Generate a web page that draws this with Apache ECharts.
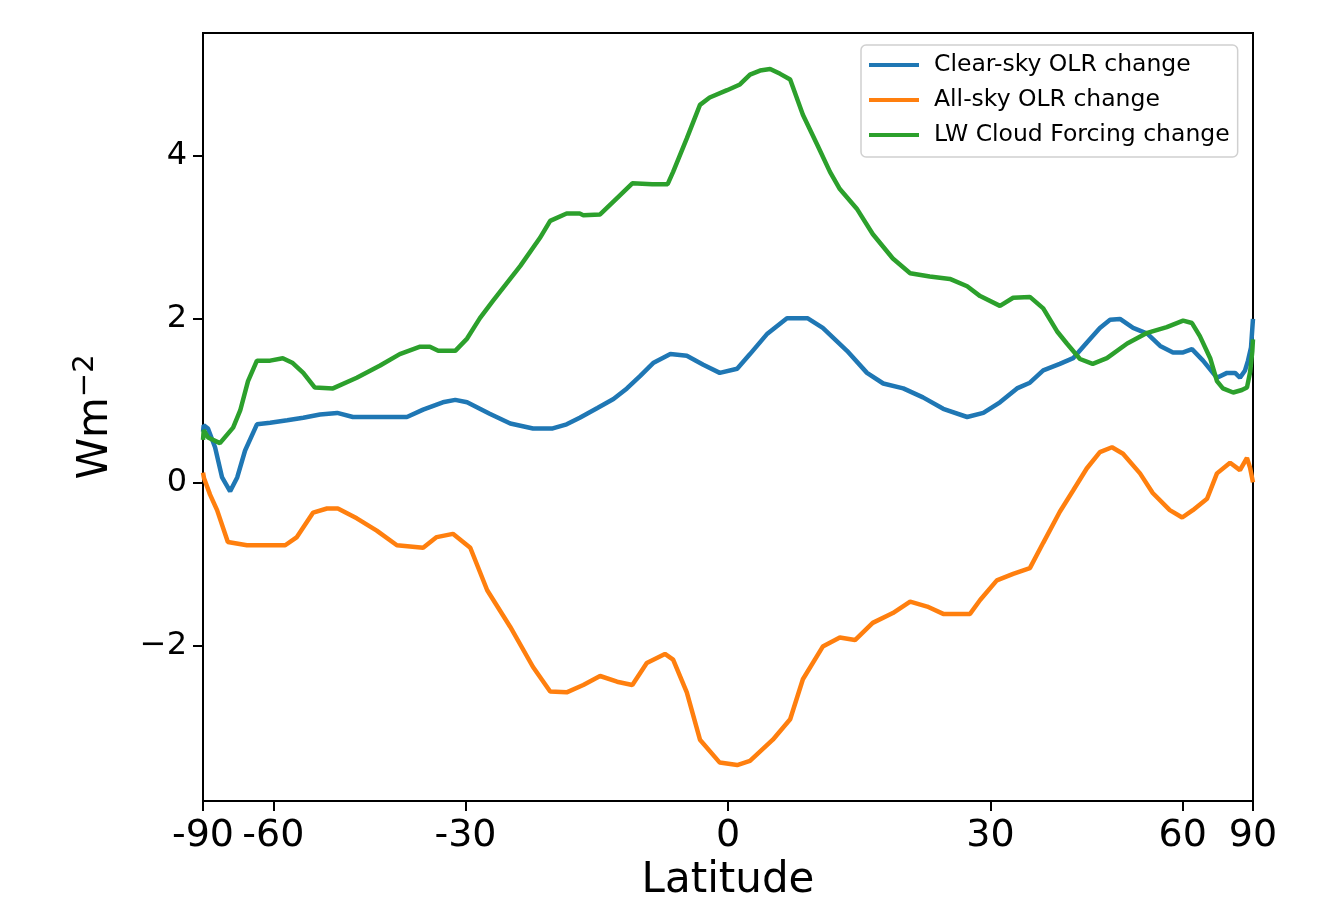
<!DOCTYPE html>
<html>
<head>
<meta charset="utf-8">
<script src="https://cdn.jsdelivr.net/npm/echarts@6/dist/echarts.min.js"></script>
<style>
html,body{margin:0;padding:0;background:#fff;}
#chart{width:1322px;height:907px;}
</style>
</head>
<body>
<div id="chart"></div>
<script>
// Tick labels
const latTicks = [-90, -60, -30, 0, 30, 60, 90];
const yTicks = [-2, 0, 2, 4];

// Clear-sky OLR change (blue)
const clearLat = [-89.5, -87, -82.1, -77.7, -74.5, -71.5, -69.2, -66.9, -63.8, -60.7, -57.1, -54.0, -51.0, -48.1, -45.6, -42.0, -37.7, -35.5, -32.9, -31.3, -29.8, -27.0, -24.5, -21.8, -19.5, -17.9, -16.4, -14.4, -12.6, -11.1, -9.65, -8.2, -6.3, -4.5, -2.7, -0.9, 1.0, 2.4, 4.3, 6.45, 8.7, 10.4, 13.1, 15.35, 17.2, 19.5, 21.8, 24.2, 27.1, 29.1, 31.2, 33.4, 35.1, 36.9, 39.2, 41.1, 43.1, 45.1, 46.7, 48.3, 50.5, 53.0, 55.4, 57.95, 60.1, 62.1, 64.8, 68.65, 71.9, 75.0, 77.2, 80.0, 82.1, 85.0, 89.5];
const clearVal = [0.62, 0.70, 0.66, 0.43, 0.06, -0.11, 0.06, 0.39, 0.71, 0.73, 0.76, 0.79, 0.83, 0.85, 0.80, 0.80, 0.80, 0.89, 0.98, 1.01, 0.98, 0.84, 0.72, 0.66, 0.66, 0.71, 0.79, 0.91, 1.02, 1.15, 1.30, 1.46, 1.57, 1.55, 1.44, 1.34, 1.39, 1.57, 1.82, 2.01, 2.01, 1.89, 1.61, 1.34, 1.21, 1.15, 1.04, 0.90, 0.80, 0.85, 0.98, 1.15, 1.22, 1.37, 1.45, 1.52, 1.71, 1.89, 1.99, 2.00, 1.89, 1.82, 1.67, 1.59, 1.59, 1.63, 1.49, 1.28, 1.34, 1.34, 1.28, 1.37, 1.49, 1.65, 2.00];

// All-sky OLR change (orange)
const allLat = [-89.5, -86.4, -80.6, -76.7, -72.3, -66.4, -61.4, -57.5, -55.2, -52.2, -49.8, -48.0, -45.0, -42.0, -39.1, -35.5, -33.7, -31.6, -29.4, -27.3, -24.5, -21.8, -19.8, -17.9, -16.0, -14.1, -12.2, -10.5, -8.9, -6.9, -6.0, -4.5, -3.06, -0.9, 1.0, 2.4, 4.9, 6.8, 8.2, 10.4, 12.3, 14.0, 16.0, 18.3, 20.3, 22.3, 24.2, 27.45, 28.7, 30.8, 32.9, 35.1, 36.9, 39.2, 41.1, 43.1, 45.1, 47.0, 48.8, 51.7, 54.0, 57.3, 59.9, 62.3, 65.85, 68.65, 73.0, 77.2, 81.3, 83.9, 89.5];
const allVal = [0.12, 0.05, -0.15, -0.34, -0.73, -0.77, -0.77, -0.77, -0.67, -0.37, -0.32, -0.32, -0.44, -0.59, -0.77, -0.80, -0.67, -0.63, -0.80, -1.32, -1.77, -2.26, -2.56, -2.57, -2.48, -2.37, -2.44, -2.48, -2.21, -2.10, -2.17, -2.57, -3.15, -3.43, -3.46, -3.41, -3.15, -2.90, -2.41, -2.01, -1.90, -1.93, -1.72, -1.60, -1.46, -1.52, -1.61, -1.61, -1.44, -1.20, -1.12, -1.05, -0.74, -0.36, -0.10, 0.17, 0.37, 0.43, 0.35, 0.11, -0.13, -0.34, -0.43, -0.34, -0.20, 0.11, 0.24, 0.15, 0.30, 0.18, 0.00];

// LW Cloud Forcing change (green)
const lwLat = [-89.5, -87, -82.1, -75.4, -70.5, -68.3, -66.1, -63.8, -60.7, -58.0, -56.0, -54.0, -51.9, -48.8, -45.0, -41.5, -38.7, -35.9, -34.6, -33.5, -31.3, -29.8, -28.2, -26.6, -23.3, -21.0, -19.8, -17.9, -16.4, -16.0, -14.1, -12.2, -10.5, -8.3, -6.6, -6.0, -4.5, -3.06, -2.0, -0.1, 1.3, 2.4, 3.5, 4.6, 5.7, 6.8, 8.2, 9.8, 11.2, 12.3, 14.2, 16.0, 18.3, 20.3, 22.6, 25.0, 27.1, 28.7, 31.2, 32.9, 35.1, 36.9, 38.8, 40.2, 42.1, 44.0, 46.2, 49.5, 53.0, 56.7, 60.1, 62.1, 64.0, 66.7, 68.65, 70.5, 74.2, 78.2, 81.3, 84.0, 87.0, 89.5];
const lwVal = [0.52, 0.64, 0.55, 0.48, 0.67, 0.88, 1.24, 1.49, 1.49, 1.52, 1.46, 1.34, 1.16, 1.15, 1.28, 1.43, 1.57, 1.66, 1.66, 1.61, 1.61, 1.76, 2.01, 2.22, 2.65, 2.99, 3.20, 3.29, 3.29, 3.27, 3.28, 3.48, 3.66, 3.65, 3.65, 3.80, 4.21, 4.62, 4.71, 4.80, 4.87, 4.99, 5.04, 5.06, 5.00, 4.93, 4.50, 4.13, 3.80, 3.59, 3.35, 3.04, 2.74, 2.56, 2.52, 2.49, 2.40, 2.28, 2.16, 2.26, 2.27, 2.13, 1.85, 1.70, 1.51, 1.45, 1.52, 1.70, 1.83, 1.90, 1.98, 1.95, 1.79, 1.52, 1.24, 1.15, 1.10, 1.13, 1.16, 1.35, 1.60, 1.75];

const FONT = 'DejaVu Sans';
const toSin = lat => Math.sin(lat * Math.PI / 180);
const fromSin = v => Math.round(Math.asin(Math.max(-1, Math.min(1, v))) * 180 / Math.PI);
const pairs = (lats, vals) => lats.map((l, i) => [toSin(l), vals[i]]);
const xTickVals = latTicks.map(toSin);

const chart = echarts.init(document.getElementById('chart'), null, {renderer: 'canvas'});

const mkSeries = (name, color, lats, vals) => ({
  name: name,
  type: 'line',
  data: pairs(lats, vals),
  symbol: 'none',
  showSymbol: false,
  smooth: false,
  lineStyle: {color: color, width: 4.5},
  itemStyle: {color: color},
  animation: false
});

chart.setOption({
  animation: false,
  backgroundColor: '#fff',
  textStyle: {fontFamily: FONT},
  grid: {
    left: 203, right: 69, top: 33, bottom: 106,
    show: true, borderColor: '#000', borderWidth: 2, backgroundColor: 'transparent'
  },
  legend: {
    orient: 'vertical',
    left: 861, top: 45,
    padding: [6, 8, 8, 8],
    backgroundColor: '#fff',
    borderColor: '#d0d0d0', borderWidth: 1.5, borderRadius: 5,
    icon: 'rect',
    itemWidth: 50, itemHeight: 4, itemGap: 7,
    textStyle: {fontFamily: FONT, fontSize: 23.5, color: '#000', lineHeight: 28, padding: [0, 0, 0, 10]},
    data: ['Clear-sky OLR change', 'All-sky OLR change', 'LW Cloud Forcing change']
  },
  xAxis: {
    type: 'value', min: -1, max: 1,
    axisLine: {show: true, onZero: false, lineStyle: {color: '#000', width: 2}},
    axisTick: {show: true, customValues: xTickVals, length: 10, lineStyle: {color: '#000', width: 2}},
    axisLabel: {
      customValues: xTickVals, formatter: v => String(fromSin(v)),
      fontFamily: FONT, fontSize: 38, color: '#000', margin: 16,
      showMinLabel: true, showMaxLabel: true, hideOverlap: false
    },
    splitLine: {show: false},
    name: 'Latitude', nameLocation: 'middle', nameGap: 58,
    nameTextStyle: {fontFamily: FONT, fontSize: 42, color: '#000'}
  },
  yAxis: {
    type: 'value', min: -3.9, max: 5.5,
    axisLine: {show: true, onZero: false, lineStyle: {color: '#000', width: 2}},
    axisTick: {show: true, customValues: yTicks, length: 10, lineStyle: {color: '#000', width: 2}},
    axisLabel: {
      customValues: yTicks, formatter: v => (v < 0 ? '\u2212' + Math.abs(v) : String(v)),
      fontFamily: FONT, fontSize: 32, color: '#000', margin: 16
    },
    splitLine: {show: false},
    name: '{a|Wm}{b|\u22122}', nameLocation: 'middle', nameGap: 82, nameRotate: 90,
    nameTextStyle: {
      fontFamily: FONT, color: '#000',
      rich: {
        a: {fontFamily: FONT, fontSize: 42, color: '#000', lineHeight: 50},
        b: {fontFamily: FONT, fontSize: 29, color: '#000', verticalAlign: 'top', lineHeight: 50}
      }
    }
  },
  series: [
    mkSeries('Clear-sky OLR change', '#1f77b4', clearLat, clearVal),
    mkSeries('All-sky OLR change', '#ff7f0e', allLat, allVal),
    mkSeries('LW Cloud Forcing change', '#2ca02c', lwLat, lwVal)
  ]
});
</script>
</body>
</html>
